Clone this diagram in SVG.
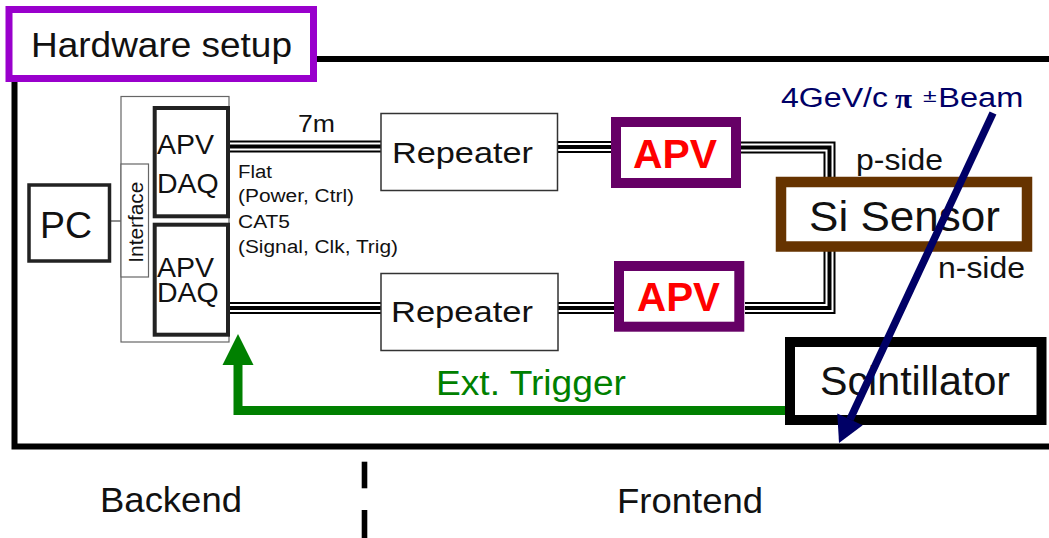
<svg xmlns="http://www.w3.org/2000/svg" width="1049" height="538" viewBox="0 0 1049 538">
<style>
text{font-family:"Liberation Sans",Arial,sans-serif;fill:#111}
.frame{fill:none;stroke:#000;stroke-width:6}
.thin{fill:#fff;stroke:#666;stroke-width:1.2}
.rep{fill:#fff;stroke:#333;stroke-width:1.5}
.daq{fill:#fff;stroke:#222;stroke-width:4}
.apv{fill:#fff;stroke:#660066;stroke-width:10}
.c1{fill:none;stroke:#000;stroke-width:12}
.c2{fill:none;stroke:#fff;stroke-width:8}
.c3{fill:none;stroke:#000;stroke-width:4}
.red{fill:#ff0000;font-weight:bold}
.navy{fill:#000066}
</style>
<defs>
<marker id="gHead" markerUnits="userSpaceOnUse" markerWidth="40" markerHeight="40" refX="0" refY="0" viewBox="0 -20 40 40" orient="auto" overflow="visible"><path d="M0,-15.5 L31,0 L0,15.5 z" fill="#008000"/></marker>
<marker id="nHead" markerUnits="userSpaceOnUse" markerWidth="40" markerHeight="40" refX="0" refY="0" viewBox="0 -20 40 40" orient="auto" overflow="visible"><path d="M0,-14 L26,0 L0,14 z" fill="#000066"/></marker>
<path id="cabA" d="M230,146.5 H381"/>
<path id="cabB" d="M557,147 H612"/>
<path id="cabC" d="M741,147.5 H829.5 V182"/>
<path id="cabD" d="M230,308 H381"/>
<path id="cabE" d="M558,308 H615"/>
<path id="cabF" d="M745,308 H829.5 V247"/>
</defs>
<rect width="1049" height="538" fill="#fff"/>
<g id="frame">
<path class="frame" d="M317,59 H1052 M14.5,78 V446.5 H1052"/>
<rect x="9" y="9.5" width="304.5" height="69" fill="#fff" stroke="#9900cc" stroke-width="7"/>
<text x="31" y="57" font-size="35" textLength="261" lengthAdjust="spacingAndGlyphs">Hardware setup</text>
</g>
<g id="connectors">
<line x1="107" y1="221" x2="121" y2="221" stroke="#444" stroke-width="1.2"/>
<g id="cables">
<use href="#cabA" class="c1"/><use href="#cabA" class="c2"/><use href="#cabA" class="c3"/>
<use href="#cabB" class="c1"/><use href="#cabB" class="c2"/><use href="#cabB" class="c3"/>
<use href="#cabC" class="c1"/><use href="#cabC" class="c2"/><use href="#cabC" class="c3"/>
<use href="#cabD" class="c1"/><use href="#cabD" class="c2"/><use href="#cabD" class="c3"/>
<use href="#cabE" class="c1"/><use href="#cabE" class="c2"/><use href="#cabE" class="c3"/>
<use href="#cabF" class="c1"/><use href="#cabF" class="c2"/><use href="#cabF" class="c3"/>
</g>
<path id="trigger" d="M786,410.5 H238 V365" fill="none" stroke="#008000" stroke-width="9" marker-end="url(#gHead)"/>
<text x="298" y="132" font-size="23" textLength="37" lengthAdjust="spacingAndGlyphs">7m</text>
<text x="238" y="178" font-size="18" textLength="34" lengthAdjust="spacingAndGlyphs">Flat</text>
<text x="238" y="202" font-size="18" textLength="116" lengthAdjust="spacingAndGlyphs">(Power, Ctrl)</text>
<text x="238" y="228" font-size="18" textLength="52" lengthAdjust="spacingAndGlyphs">CAT5</text>
<text x="238" y="253" font-size="18" textLength="160" lengthAdjust="spacingAndGlyphs">(Signal, Clk, Trig)</text>
<text x="436" y="395" font-size="35" textLength="190" lengthAdjust="spacingAndGlyphs" style="fill:#008000">Ext. Trigger</text>
</g>
<g id="pc">
<rect x="29" y="185" width="80.5" height="76" fill="#fff" stroke="#222" stroke-width="3.5"/>
<text x="40" y="238" font-size="37" textLength="52" lengthAdjust="spacingAndGlyphs">PC</text>
</g>
<g id="interface">
<rect class="thin" x="121" y="96.5" width="108" height="245.5"/>
<rect class="thin" x="121" y="164" width="27.5" height="113"/>
<text transform="translate(143,222.2) rotate(-90)" text-anchor="middle" font-size="19.5" textLength="81" lengthAdjust="spacingAndGlyphs">Interface</text>
</g>
<g id="apvdaq1">
<rect class="daq" x="154.7" y="108" width="73.3" height="108.3"/>
<text x="157" y="154" font-size="28.5">APV</text>
<text x="157" y="193" font-size="28.5">DAQ</text>
</g>
<g id="apvdaq2">
<rect class="daq" x="154.7" y="224.7" width="73.3" height="110"/>
<text x="157" y="277" font-size="28.5">APV</text>
<text x="157" y="302" font-size="28.5">DAQ</text>
</g>
<g id="repeater1">
<rect class="rep" x="381" y="113.5" width="176.5" height="77"/>
<text x="392" y="163" font-size="30" textLength="141" lengthAdjust="spacingAndGlyphs">Repeater</text>
</g>
<g id="repeater2">
<rect class="rep" x="381" y="273.5" width="177" height="77"/>
<text x="391" y="322" font-size="30" textLength="142" lengthAdjust="spacingAndGlyphs">Repeater</text>
</g>
<g id="apv1">
<rect class="apv" x="616" y="122" width="120" height="61"/>
<text class="red" x="633" y="168" font-size="41" textLength="84" lengthAdjust="spacingAndGlyphs">APV</text>
</g>
<g id="apv2">
<rect class="apv" x="619" y="266" width="120.3" height="60.7"/>
<text class="red" x="637" y="311" font-size="41" textLength="83" lengthAdjust="spacingAndGlyphs">APV</text>
</g>
<g id="sensor">
<rect x="781" y="182" width="246" height="64.5" fill="#fff" stroke="#663300" stroke-width="10.5"/>
<text x="809" y="231" font-size="42" textLength="191" lengthAdjust="spacingAndGlyphs">Si Sensor</text>
<text x="856" y="170" font-size="29" textLength="87" lengthAdjust="spacingAndGlyphs">p-side</text>
<text x="938" y="278" font-size="29" textLength="87" lengthAdjust="spacingAndGlyphs">n-side</text>
</g>
<g id="scintillator">
<rect x="790" y="342" width="251.5" height="78" fill="#fff" stroke="#000" stroke-width="10"/>
<text x="820" y="395" font-size="41" textLength="190" lengthAdjust="spacingAndGlyphs">Scintillator</text>
</g>
<g id="beam">
<text class="navy" x="781" y="107" font-size="27" textLength="107" lengthAdjust="spacingAndGlyphs">4GeV/c</text>
<text class="navy" x="895" y="107.5" font-size="28" font-weight="bold" style="font-family:'Liberation Serif','Times New Roman',serif" textLength="17" lengthAdjust="spacingAndGlyphs">π</text>
<text class="navy" x="923" y="101.7" font-size="18" textLength="13.7" lengthAdjust="spacingAndGlyphs">±</text>
<text class="navy" x="938.3" y="107" font-size="27" textLength="85" lengthAdjust="spacingAndGlyphs">Beam</text>
<line x1="993" y1="113" x2="850" y2="419.4" stroke="#000066" stroke-width="7.5" marker-end="url(#nHead)"/>
</g>
<g id="sides">
<rect x="361.7" y="461.7" width="5.6" height="26.6" fill="#000"/>
<rect x="361.7" y="510" width="5.6" height="28" fill="#000"/>
<text x="100" y="512" font-size="35" textLength="142" lengthAdjust="spacingAndGlyphs">Backend</text>
<text x="617" y="513" font-size="35" textLength="146" lengthAdjust="spacingAndGlyphs">Frontend</text>
</g>
</svg>
